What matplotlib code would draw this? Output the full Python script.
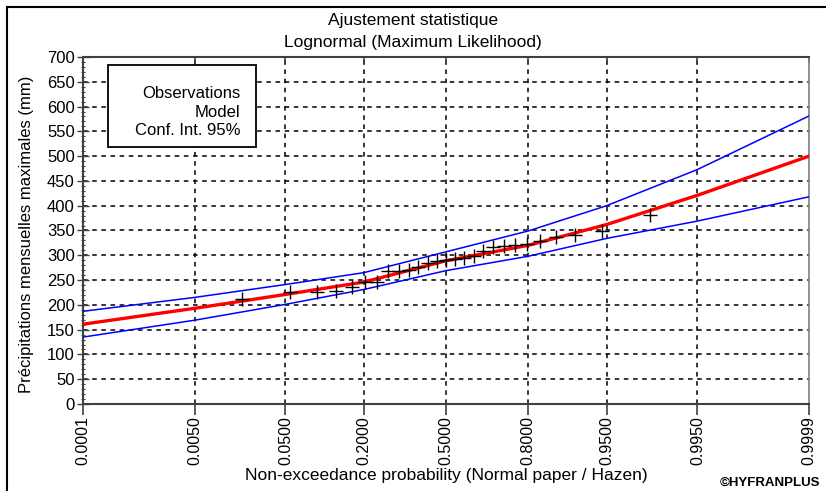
import numpy as np
import matplotlib
matplotlib.use('Agg')
import matplotlib.pyplot as plt
from matplotlib.lines import Line2D
from matplotlib.patches import Rectangle
from statistics import NormalDist


# observations (sorted), plotted with Hazen positions
obs = [211, 225, 227, 226, 237, 246, 247, 268, 269, 270, 276, 285, 288,
       291, 292, 294, 298, 308, 317, 318, 320, 323, 328, 336, 340, 349, 382]

# model and 95% confidence bounds read at the axis probabilities
prob_ticks = [0.0001, 0.005, 0.05, 0.2, 0.5, 0.8, 0.95, 0.995, 0.9999]
model = [161, 193, 221, 246, 289, 320, 362, 421, 500]
upper = [187, 215, 241, 265, 307, 349, 400, 473, 581]
lower = [135, 169, 201, 231, 269, 298, 334, 369, 418]

y_ticks = [0, 50, 100, 150, 200, 250, 300, 350, 400, 450, 500, 550, 600, 650, 700]


nd = NormalDist()
ppf = np.vectorize(lambda p: nd.inv_cdf(min(max(p, 1e-12), 1 - 1e-12)), otypes=[float])
cdf = np.vectorize(nd.cdf, otypes=[float])


def forward(p):
    return ppf(np.asarray(p, dtype=float))


def inverse(z):
    return cdf(np.asarray(z, dtype=float))


plt.rcParams['font.family'] = ['Liberation Sans', 'DejaVu Sans']

fig = plt.figure(figsize=(8.26, 4.91), dpi=100)
ax = fig.add_axes([0.1005, 0.1772, 0.8789, 0.7067])
ax.set_xscale('function', functions=(forward, inverse))

n = len(obs)
hazen = [(i - 0.5) / n for i in range(1, n + 1)]

ax.plot(prob_ticks, upper, color='#0000ff', lw=1.1, zorder=3)
ax.plot(prob_ticks, lower, color='#0000ff', lw=1.1, zorder=3)
ax.plot(prob_ticks, model, color='#ff0000', lw=2.4, zorder=4)
ax.plot(hazen, sorted(obs), ls='none', marker='+', color='black',
        ms=10, mew=1.0, zorder=5)

ax.set_xlim(prob_ticks[0], prob_ticks[-1])
ax.set_ylim(0, 700)

ax.set_xticks(prob_ticks)
ax.set_xticklabels(['%.4f' % p for p in prob_ticks], rotation=90, fontsize=11.5)
ax.set_yticks(y_ticks)
ax.set_yticklabels([str(v) for v in y_ticks], fontsize=12)
ax.set_yticks(np.arange(0, 700, 10), minor=True)
ax.xaxis.set_minor_locator(matplotlib.ticker.NullLocator())

ax.tick_params(axis='x', direction='out', length=8, width=1.2, color='#404040', pad=1,
               top=True)
ax.tick_params(axis='x', which='major', labeltop=False)
ax.tick_params(axis='y', which='major', direction='inout', length=8, width=1.0,
               color='#404040', pad=2)
ax.tick_params(axis='y', which='minor', direction='inout', length=3, width=0.8,
               color='#404040')
for t in ax.xaxis.get_major_ticks():
    t.tick2line.set_marker(3)
    t.tick2line.set_markersize(4)

ax.grid(True, which='major', color='black', ls=(0, (3, 3)), lw=1.1)
ax.xaxis.get_gridlines()[0].set_visible(False)
ax.xaxis.get_gridlines()[-1].set_visible(False)
ax.yaxis.get_gridlines()[0].set_visible(False)
ax.yaxis.get_gridlines()[-1].set_visible(False)

for side in ['left', 'bottom', 'top']:
    ax.spines[side].set_color('#404040')
    ax.spines[side].set_linewidth(1.5)
ax.spines['right'].set_color('#808080')
ax.spines['right'].set_linewidth(1.2)

ax.set_xlabel('Non-exceedance probability (Normal paper / Hazen)', fontsize=12.5, labelpad=2)
ax.set_ylabel('Précipitations mensuelles maximales (mm)', fontsize=12)
ax.yaxis.set_label_coords(-0.068, 0.49)

# legend box (text only, as in the original)
ax.add_patch(Rectangle((0.0344, 0.7406), 0.2039, 0.2364, transform=ax.transAxes,
                       facecolor='white', edgecolor='black', lw=1.3, zorder=6))
ax.text(0.2163, 0.8415, 'Observations\nModel\nConf. Int. 95%', transform=ax.transAxes,
        ha='right', va='center', multialignment='right', fontsize=12, linespacing=1.29,
        zorder=7)

fig.text(0.5, 0.958, 'Ajustement statistique', ha='center', va='center', fontsize=12.5)
fig.text(0.5, 0.914, 'Lognormal (Maximum Likelihood)', ha='center', va='center', fontsize=12.5)
fig.text(0.993, 0.017, '©HYFRANPLUS', ha='right', va='center', fontsize=9.5, fontweight='bold')

# outer frame (top and left edges visible)
fig.add_artist(Line2D([7 / 826, 1.0], [1 - 7 / 491, 1 - 7 / 491], color='black', lw=1.5))
fig.add_artist(Line2D([7 / 826, 7 / 826], [0.0, 1 - 7 / 491], color='black', lw=1.5))

fig.savefig('out.png', dpi=100)
